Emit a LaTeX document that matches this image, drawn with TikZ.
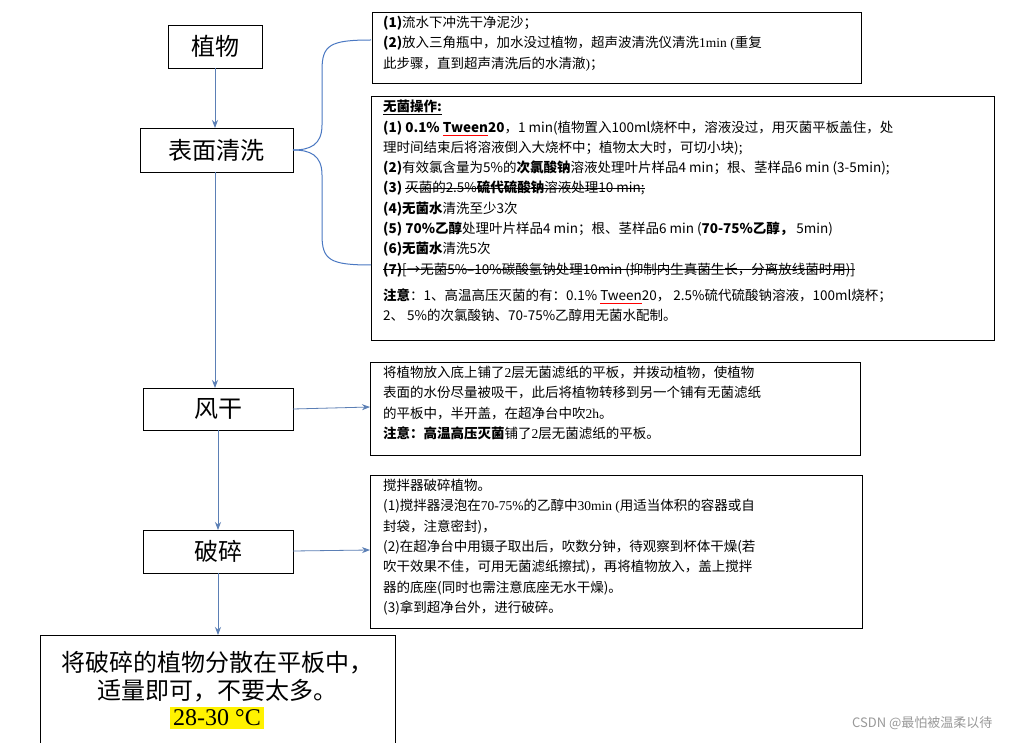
\documentclass[tikz,border=0pt]{standalone}
\usepackage{fontspec}
\usetikzlibrary{arrows.meta}
\setmainfont{Noto Sans CJK SC}
\tikzset{
 stepbox/.style={draw,line width=0.8pt,inner sep=0pt},
 bigtxt/.style={font=\fontsize{24}{28}\selectfont},
 smalltxt/.style={font=\fontsize{13.5}{20.3}\selectfont,align=left,anchor=north west,inner sep=0pt},
 arr/.style={draw=arrowc,line width=0.8pt,-{Stealth[length=8pt,width=6pt]}},
 brace/.style={draw=bracec,line width=1pt}
}
\definecolor{arrowc}{HTML}{5B7FB5}
\definecolor{bracec}{HTML}{4A78C2}
\newcommand{\mysout}[1]{\setbox0\hbox{#1}\rlap{\raisebox{0.3em}{\rule{\wd0}{0.7pt}}}\box0}
\newcommand{\wv}[1]{\setbox0\hbox{#1}\rlap{\raisebox{-3pt}{\color{red}\rule{\wd0}{0.5pt}}}\box0}
\newcommand{\myul}[1]{\setbox0\hbox{#1}\rlap{\raisebox{-3pt}{\rule{\wd0}{0.7pt}}}\box0}
\begin{document}
\begin{tikzpicture}[x=1pt,y=-1pt]
\useasboundingbox (0,0) rectangle (1009,743);
\fill[white] (0,0) rectangle (1009,743);
% left column boxes
\draw[stepbox] (168,25) rectangle (262,68); \node[bigtxt] (zw) at (215,46.5) {植物};
\coordinate (zwb) at (215,68);
\draw[stepbox] (140,128) rectangle (293,172); \node[bigtxt] (bm) at (216.5,150) {表面清洗};
\coordinate (bmt) at (215,128); \coordinate (bmb) at (215,172); \coordinate (bmr) at (293,150);
\draw[stepbox] (143,388) rectangle (293,430); \node[bigtxt] (fg) at (218,409) {风干};
\coordinate (fgt) at (215,388); \coordinate (fgb) at (218,430); \coordinate (fgr) at (293,409);
\draw[stepbox] (143,530) rectangle (293,573); \node[bigtxt] (ps) at (218,551.5) {破碎};
\coordinate (pst) at (218,530); \coordinate (psb) at (218,573); \coordinate (psr) at (293,551);
\draw[stepbox] (40,743) -- (40,635) -- (395,635) -- (395,743);
\node[bigtxt,align=center] (fin) at (217,690) {将破碎的植物分散在平板中，\\适量即可，不要太多。\\[-2pt]\colorbox{yellow}{\fontspec{Liberation Serif}28-30 °C}};
\coordinate (fint) at (218,635);
% arrows
\draw[arr] (zwb) -- (bmt);
\draw[arr] (bmb) -- (fgt);
\draw[arr] (fgb) -- (pst);
\draw[arr] (psb) -- (fint);
% right boxes
\draw[stepbox] (372,12) rectangle (861,83);
\node[smalltxt] (t1) at (383,16) {\textbf{(1)}流水下冲洗干净泥沙；\\\textbf{(2)}放入三角瓶中，加水没过植物，超声波清洗仪清洗{\fontspec{Liberation Serif}1min (}重复\\此步骤，直到超声清洗后的水清澈{\fontspec{Liberation Serif})}；};
\draw[stepbox] (371,96) rectangle (994,340);
\node[smalltxt] (t2) at (383,100) {\myul{\textbf{无菌操作:}}\\
\textbf{(1) 0.1\% \wv{Tween} 20}，1 min(植物置入100ml烧杯中，溶液没过，用灭菌平板盖住，处\\
理时间结束后将溶液倒入大烧杯中；植物太大时，可切小块);\\
\textbf{(2)}有效氯含量为5\%的\textbf{次氯酸钠}溶液处理叶片样品4 min；根、茎样品6 min (3-5min);\\
\textbf{(3)} \mysout{灭菌的2.5\%\textbf{硫代硫酸钠}溶液处理10 min;}\\
\textbf{(4)无菌水}清洗至少3次\\
\textbf{(5) 70\%乙醇}处理叶片样品4 min；根、茎样品6 min (\textbf{70-75\%乙醇，} 5min)\\
\textbf{(6)无菌水}清洗5次\\
\mysout{\textbf{(7)}[→无菌5\%--10\%碳酸氢钠处理10min (抑制内生真菌生长，分离放线菌时用)]}\\[6pt]
\textbf{注意}：1、高温高压灭菌的有：0.1\% \wv{Tween} 20， 2.5\%硫代硫酸钠溶液，100ml烧杯；\\
2、 5\%的次氯酸钠、70-75\%乙醇用无菌水配制。};
\draw[stepbox] (370,362) rectangle (860,455);
\node[smalltxt] (t3) at (383,366) {将植物放入底上铺了{\fontspec{Liberation Serif}2}层无菌滤纸的平板，并拨动植物，使植物\\表面的水份尽量被吸干，此后将植物转移到另一个铺有无菌滤纸\\的平板中，半开盖，在超净台中吹{\fontspec{Liberation Serif}2h}。\\\textbf{注意：高温高压灭菌}铺了{\fontspec{Liberation Serif}2}层无菌滤纸的平板。};
\draw[stepbox] (370,475) rectangle (862,628);
\node[smalltxt] (t4) at (383,479) {搅拌器破碎植物。\\(1)搅拌器浸泡在{\fontspec{Liberation Serif}70-75\%}的乙醇中{\fontspec{Liberation Serif}30min (}用适当体积的容器或自\\封袋，注意密封)，\\(2)在超净台中用镊子取出后，吹数分钟，待观察到杯体干燥(若\\吹干效果不佳，可用无菌滤纸擦拭)，再将植物放入，盖上搅拌\\器的底座(同时也需注意底座无水干燥)。\\(3)拿到超净台外，进行破碎。};
\coordinate (b3) at (370,407); \coordinate (b4) at (370,550);
\draw[arr] (fgr) -- (b3);
\draw[arr] (psr) -- (b4);
% brace
\coordinate (bt) at (371,40); \coordinate (bb) at (371,265);
\draw[brace] (bt) .. controls (330,40) and (322,45) .. (322,70) -- (322,125) .. controls (322,145) and (310,150) .. (bmr);
\draw[brace] (bb) .. controls (330,265) and (322,260) .. (322,235) -- (322,175) .. controls (322,155) and (310,150) .. (bmr);
\node[font=\fontsize{13}{15}\selectfont,text=gray!80,anchor=east] (wm) at (996,723) {CSDN @最怕被温柔以待};
\end{tikzpicture}
\end{document}
